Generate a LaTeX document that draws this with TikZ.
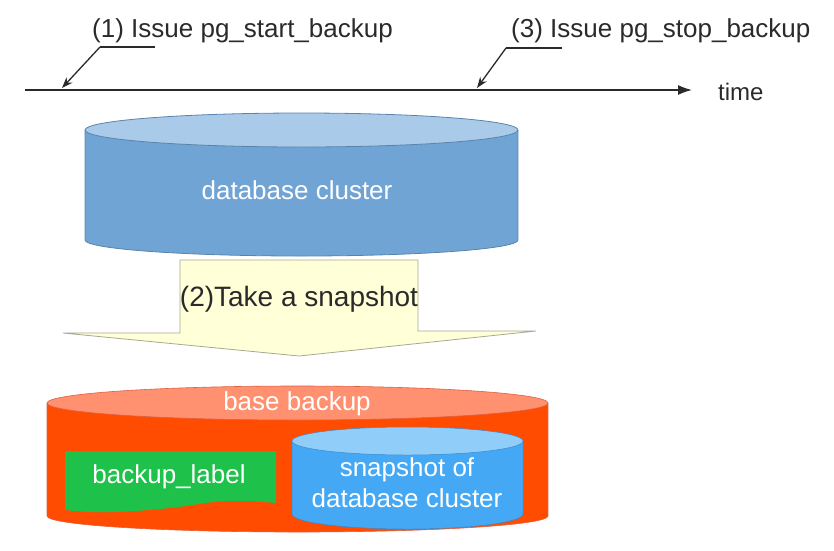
\documentclass[tikz,border=0pt]{standalone}
\usepackage{fontspec}
\setmainfont{Liberation Sans}
\usetikzlibrary{arrows.meta}
\definecolor{dbbody}{HTML}{70A4D4}
\definecolor{dbtop}{HTML}{A9CAE8}
\definecolor{dbline}{HTML}{5A84AC}
\definecolor{ylw}{HTML}{FFFFD8}
\definecolor{ylwline}{HTML}{A8A890}
\definecolor{orbody}{HTML}{FF4C00}
\definecolor{ortop}{HTML}{FF9070}
\definecolor{orline}{HTML}{E06040}
\definecolor{grn}{HTML}{1EC24B}
\definecolor{snbody}{HTML}{44A8F4}
\definecolor{sntop}{HTML}{90CDF8}
\definecolor{snline}{HTML}{3A8AD0}
\definecolor{ink}{HTML}{2A2A2A}
\tikzset{
  lbl/.style={font=\fontsize{26}{31}\selectfont, text=ink, inner sep=0pt},
  wtxt/.style={font=\fontsize{26}{31}\selectfont, text=white, inner sep=0pt, align=center},
  leader/.style={draw=ink, line width=1.3pt, -{Stealth[length=11pt,width=8pt]}},
}
\begin{document}
\begin{tikzpicture}[x=1pt,y=-1pt]
\useasboundingbox (0,0) rectangle (834,550);

% time axis
\coordinate (t0) at (25,90);
\coordinate (t1) at (692,90);
\draw[ink, line width=1.3pt, -{Latex[length=14pt,width=10pt]}] (t0) -- (t1);
\node[lbl, font=\fontsize{24}{29}\selectfont, anchor=west] (time) at (718,92) {time};

% labels and leaders
\node[lbl, anchor=west] (l1) at (92,31) {(1) Issue pg\_start\_backup};
\node[lbl, anchor=west] (l3) at (511,31) {(3) Issue pg\_stop\_backup};
\coordinate (h1a) at (155,47);
\coordinate (h1b) at (100,47);
\coordinate (a1) at (62,88);
\coordinate (h3a) at (562,48);
\coordinate (h3b) at (506,48);
\coordinate (a3) at (477,88);
\draw[ink, line width=1.3pt] (h1a) -- (h1b);
\draw[leader] (h1b) -- (a1);
\draw[ink, line width=1.3pt] (h3a) -- (h3b);
\draw[leader] (h3b) -- (a3);

% database cluster cylinder
\fill[dbbody] (85,130) rectangle (518,240);
\fill[dbbody] (301.5,240) ellipse[x radius=216.5, y radius=16];
\draw[dbline, line width=0.8pt] (85,130) -- (85,240) arc[start angle=180, end angle=0, x radius=216.5, y radius=16] -- (518,130);
\draw[dbline, line width=0.8pt, fill=dbtop] (301.5,130) ellipse[x radius=216.5, y radius=17];
\node[wtxt] (db) at (297,190) {database cluster};

% snapshot arrow
\draw[ylwline, line width=0.8pt, fill=ylw] (180,260) -- (418,260) -- (418,331) -- (536,331) -- (299,356) -- (63,333) -- (180,333) -- cycle;
\node[font=\fontsize{28}{33}\selectfont, text=ink, inner sep=0pt] (snap) at (299,299) {(2)Take a snapshot};

% base backup cylinder
\fill[orbody] (47,403) rectangle (548,516);
\fill[orbody] (297.5,516) ellipse[x radius=250.5, y radius=16];
\draw[orline, line width=0.6pt] (47,403) -- (47,516) arc[start angle=180, end angle=0, x radius=250.5, y radius=16] -- (548,403);
\draw[orline, line width=0.6pt, fill=ortop] (297.5,403) ellipse[x radius=250.5, y radius=17];
\node[wtxt] (bb) at (297,404) {base backup};

% backup_label document
\fill[grn] (65,451) -- (276,451) -- (276,503) .. controls (220,497) and (200,505) .. (170,508) .. controls (130,512) and (100,514) .. (65,510) -- cycle;
\node[wtxt] (bl) at (169,477) {backup\_label};

% inner snapshot cylinder
\fill[snbody] (292,441) rectangle (523,514);
\fill[snbody] (407.5,514) ellipse[x radius=115.5, y radius=15];
\draw[snline, line width=0.5pt] (292,441) -- (292,514) arc[start angle=180, end angle=0, x radius=115.5, y radius=15] -- (523,441);
\draw[snline, line width=0.5pt, fill=sntop] (407.5,441) ellipse[x radius=115.5, y radius=14];
\node[wtxt] (sn) at (407,483) {snapshot of\\database cluster};
\end{tikzpicture}
\end{document}
